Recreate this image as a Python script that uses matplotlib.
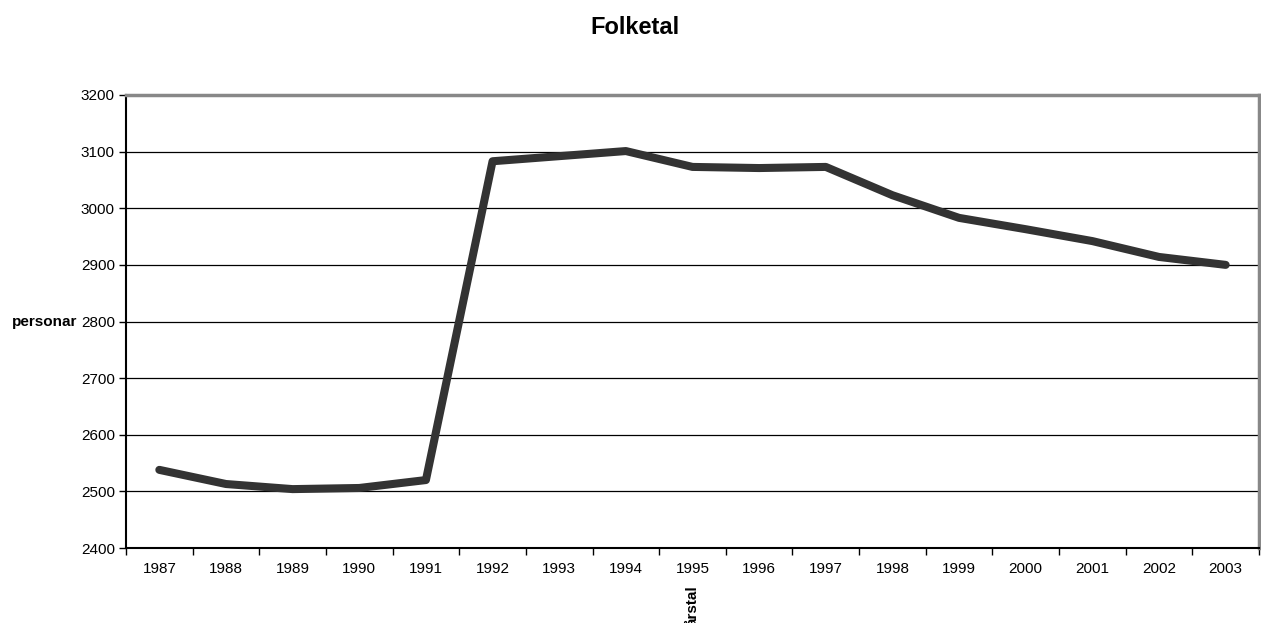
import matplotlib
matplotlib.use('Agg')
import matplotlib.pyplot as plt
import numpy as np

plt.rcParams['font.family'] = ['Liberation Sans', 'DejaVu Sans']

years = ['1987', '1988', '1989', '1990', '1991', '1992', '1993', '1994', '1995',
         '1996', '1997', '1998', '1999', '2000', '2001', '2002', '2003']
folketal = [2538, 2513, 2504, 2506, 2520, 3083, 3092, 3101, 3073,
            3071, 3073, 3023, 2983, 2963, 2942, 2914, 2900]
yticks = [2400, 2500, 2600, 2700, 2800, 2900, 3000, 3100, 3200]

W, H = 1261, 623
fig = plt.figure(figsize=(W / 100, H / 100), dpi=100)
ax = fig.add_axes([126 / W, 1 - 548 / H, (1259 - 126) / W, (548 - 95) / H])

x = np.arange(len(years))
ax.plot(x, folketal, color='#333333', lw=5.8, solid_capstyle='round',
        solid_joinstyle='round', zorder=3)

ax.set_xlim(-0.5, len(years) - 0.5)
ax.set_ylim(yticks[0], yticks[-1])
ax.set_yticks(yticks)
ax.set_xticks(x)
ax.set_xticklabels(years)
ax.set_xticks(np.arange(-0.5, len(years)), minor=True)
ax.tick_params(axis='x', which='major', length=0, pad=10, labelsize=11)
ax.tick_params(axis='x', which='minor', length=5, width=1, direction='out')
ax.tick_params(axis='y', length=5, width=1, direction='out', pad=3, labelsize=11)

for yv in yticks[1:-1]:
    ax.axhline(yv, color='black', lw=0.9, zorder=1)

ax.spines['left'].set_linewidth(1.5)
ax.spines['bottom'].set_linewidth(1.5)
ax.spines['top'].set_color('#888888')
ax.spines['right'].set_color('#888888')
ax.spines['top'].set_linewidth(2.5)
ax.spines['right'].set_linewidth(2.5)

fig.text(635 / W, 1 - 27 / H, 'Folketal', ha='center', va='center',
         fontsize=17, fontweight='bold')
fig.text(77 / W, 1 - 322 / H, 'personar', ha='right', va='center',
         fontsize=11, fontweight='bold')
fig.text(693 / W, 1 - 585 / H, 'årstal', ha='center', va='top',
         rotation=90, fontsize=11, fontweight='bold')

fig.savefig('out.png', dpi=100)
